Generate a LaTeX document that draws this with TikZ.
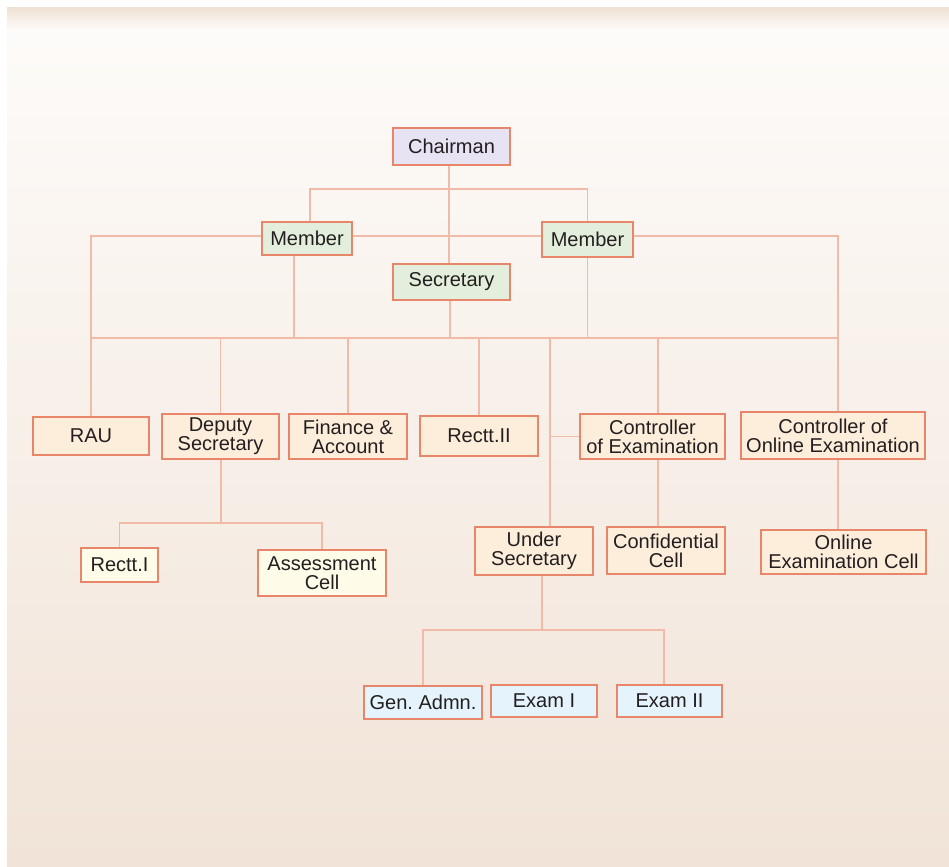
\documentclass[tikz,border=0pt]{standalone}
\usepackage{fontspec}
\setmainfont{Liberation Sans}
\usepackage{tikz}
\usetikzlibrary{
	calc,
	positioning,
}
\definecolor{edge}{HTML}{E8866C}
\definecolor{wire}{HTML}{F2BBA8}
\definecolor{ink}{HTML}{231F20}
\definecolor{lav}{HTML}{E7E3F2}
\definecolor{mint}{HTML}{E3EFDC}
\definecolor{peach}{HTML}{FDEEDC}
\definecolor{cream}{HTML}{FEFBE8}
\definecolor{sky}{HTML}{E5F4FC}
\frenchspacing
\tikzset{default node/.style={
	draw=edge,
	line width=1.1pt,
	align=center,
	inner sep=1pt,
	text=ink,
	font=\fontsize{11.4pt}{10.8pt}\selectfont,
}}

\begin{document}
\begin{tikzpicture}[
x=0.02cm, y=-0.02cm,
line width=0.8pt,
sz/.style 2 args={minimum width=#1*0.02cm, minimum height=#2*0.02cm},
]
\useasboundingbox (0,0) rectangle (949,866);
\fill[white] (0,0) rectangle (949,866);
\shade[top color={rgb,255:red,239;green,224;blue,210}, bottom color={rgb,255:red,253;green,251;blue,250}] (7,7) rectangle (949,30);
\shade[top color={rgb,255:red,253;green,251;blue,249}, bottom color={rgb,255:red,241;green,227;blue,215}] (7,30) rectangle (949,866);

\tikzset{
	top/.style={default node, fill=lav},
	board/.style={default node, fill=mint},
	unit/.style={default node, fill=peach},
	cell/.style={default node, fill=cream},
	desk/.style={default node, fill=sky},
}

\node(chair)[top, sz={117}{37}]		at(451.5,146.5)	{Chairman};

\begin{scope}[every node/.style={board}]
\node(memL)[sz={90}{33}]		at(307,238.5)	{Member};
\node(memR)[sz={91}{35}]		at(587.5,239.5)	{Member};
\node(sec)[sz={117}{36}]		at(451.5,282)	{Secretary};
\end{scope}

\begin{scope}[every node/.style={unit}]
\node(rau)[sz={116}{38}]		at(91,436)		{RAU};
\node(dep)[sz={117}{45}]		at(220.5,436.5)	{Deputy\\Secretary};
\node(fin)[sz={118}{45}]		at(348,436.5)	{Finance \&\\Account};
\node(rect2)[sz={118}{40}]		at(479,436)		{Rectt.II};
\node(coe)[sz={145}{45}]		at(652.5,436.5)	{Controller\\of Examination};
\node(cooe)[sz={184}{47}]		at(833,435.5)	{Controller of\\Online Examination};
\node(under)[sz={118}{48}]		at(534,551)		{Under\\Secretary};
\node(conf)[sz={118}{47}]		at(666,550.5)	{Confidential\\Cell};
\node(oncell)[sz={165}{44}]		at(843.5,552)	{Online\\Examination Cell};
\end{scope}

\begin{scope}[every node/.style={cell}]
\node(rect1)[sz={77}{34}]		at(119.5,565)	{Rectt.I};
\node(assess)[sz={128}{46}]		at(322,573)		{Assessment\\Cell};
\end{scope}

\begin{scope}[every node/.style={desk}]
\node(gen)[sz={118}{33}]		at(423,702.5)	{Gen. Admn.};
\node(ex1)[sz={106}{32}]		at(544,701)		{Exam I};
\node(ex2)[sz={105}{32}]		at(669.5,701)	{Exam II};
\end{scope}

% junctions
\coordinate (b1) at (449,189);
\coordinate (b2) at (449,236);
\coordinate (busL) at (91,338);
\coordinate (busR) at (838,338);
\coordinate (usx) at (550,338);
\coordinate (coex) at (658,338);
\coordinate (b3) at (221,523);
\coordinate (b4) at (542,630);
\coordinate (b4r) at (664,630);

\begin{scope}[wire]
\draw (chair.south -| b1) -- (b1 |- sec.north);
\draw (memL.north -| 310,0) |- (b1) -| (memR.north);
\draw (rau.north) |- (b2 -| memL.west);
\draw (b2 -| memL.east) -- (b2 -| memR.west);
\draw (b2 -| memR.east) -| (busR |- cooe.north);
\draw (busL) -- (busR);
\draw (memL.south -| 294,0) -- (busL -| 294,0);
\draw (sec.south -| 450,0) -- (busL -| 450,0);
\draw (memR.south) -- (memR.south |- busL);
\draw (busL -| dep.north) -- (dep.north);
\draw (busL -| fin.north) -- (fin.north);
\draw (busL -| rect2.north) -- (rect2.north);
\draw (coex) -- (coex |- coe.north);
\draw (usx) -- (usx |- under.north);
\draw (usx |- coe.west) -- (coe.west);
\draw (coe.south -| coex) -- (coex |- conf.north);
\draw (cooe.south -| busR) -- (busR |- oncell.north);
\draw (dep.south -| b3) -- (b3);
\draw (rect1.north) |- (b3) -| (assess.north);
\draw (under.south -| b4) -- (b4);
\draw (gen.north) |- (b4) -- (b4r) -- (b4r |- ex2.north);
\end{scope}

\end{tikzpicture}
\end{document}
